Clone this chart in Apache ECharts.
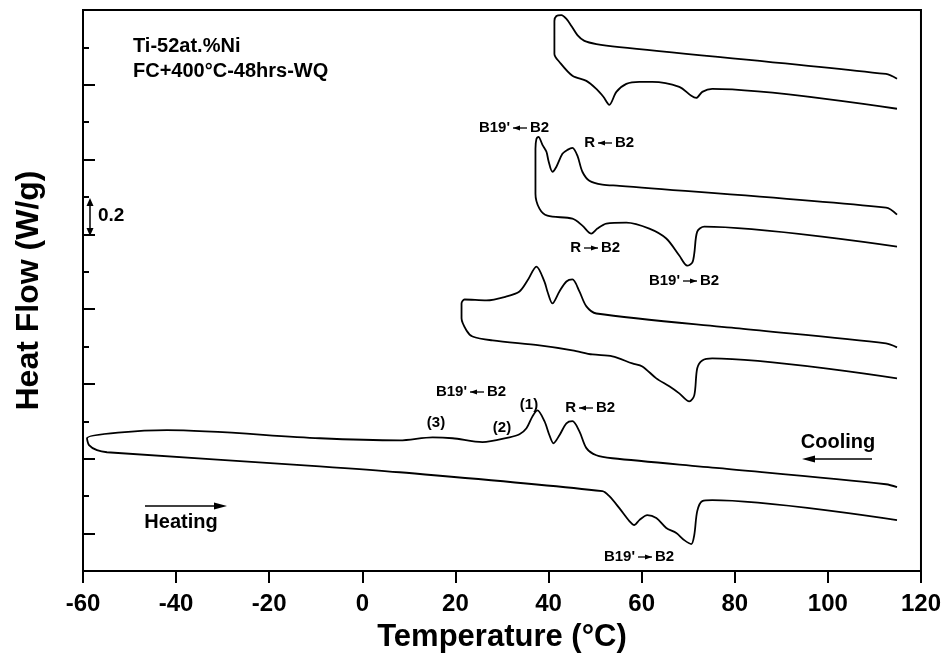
<!DOCTYPE html>
<html><head><meta charset="utf-8">
<script src="https://cdn.jsdelivr.net/npm/echarts@6/dist/echarts.min.js"></script>
<style>html,body{margin:0;padding:0;background:#fff}#c{width:944px;height:658px}</style>
</head><body><div id="c"></div>
<script>
// Temperature (°C) and heat flow (W/g, offset curves) for the four DSC loops
const loop1T  = [114.85, 112.49, 55.21, 50.27, 47.70, 46.20, 44.91, 43.84, 42.77, 41.69, 41.26, 41.26, 42.34, 45.13, 48.13, 50.27, 51.78, 53.06, 54.57, 56.71, 59.50, 62.29, 68.08, 70.66, 71.73, 73.02, 75.16, 114.85];
const loop1HF = [2.632, 2.658, 2.802, 2.818, 2.835, 2.866, 2.915, 2.952, 2.973, 2.968, 2.941, 2.765, 2.722, 2.648, 2.621, 2.578, 2.536, 2.493, 2.562, 2.605, 2.616, 2.616, 2.589, 2.541, 2.530, 2.562, 2.578, 2.472];

const loop2T  = [114.85, 112.49, 55.21, 51.56, 48.77, 47.27, 46.20, 45.13, 44.06, 42.98, 41.69, 40.83, 39.98, 39.55, 38.69, 37.83, 37.40, 37.19, 37.19, 38.05, 39.76, 45.13, 47.27, 49.20, 50.49, 52.42, 56.71, 61.65, 65.29, 68.08, 69.80, 70.87, 71.30, 71.94, 73.45, 114.85];
const loop2HF = [1.906, 1.943, 2.060, 2.066, 2.087, 2.135, 2.221, 2.263, 2.252, 2.231, 2.162, 2.135, 2.194, 2.242, 2.279, 2.322, 2.311, 2.258, 2.018, 1.938, 1.900, 1.884, 1.847, 1.804, 1.831, 1.858, 1.863, 1.831, 1.778, 1.687, 1.633, 1.649, 1.697, 1.815, 1.842, 1.735];

const loop3T  = [114.85, 112.49, 80.95, 50.27, 48.13, 46.63, 45.13, 43.84, 42.34, 40.83, 39.76, 39.12, 37.40, 35.47, 33.76, 30.97, 26.67, 21.96, 21.31, 21.31, 22.38, 23.67, 27.96, 38.05, 45.13, 49.42, 53.71, 58.00, 60.15, 63.15, 65.94, 68.08, 70.23, 71.30, 71.94, 73.02, 75.16, 114.85];
const loop3HF = [1.196, 1.217, 1.297, 1.377, 1.415, 1.495, 1.559, 1.548, 1.495, 1.431, 1.495, 1.548, 1.628, 1.553, 1.495, 1.468, 1.447, 1.452, 1.431, 1.351, 1.286, 1.254, 1.233, 1.206, 1.180, 1.158, 1.148, 1.110, 1.094, 1.030, 0.988, 0.950, 0.907, 0.939, 1.084, 1.126, 1.137, 1.030];

const loop4T  = [114.85, 112.49, 76.66, 53.71, 50.27, 48.13, 46.63, 45.13, 43.84, 42.34, 41.05, 40.19, 39.12, 37.62, 36.55, 35.26, 33.76, 31.61, 25.82, 19.38, 15.09, 8.01, -9.15, -41.98, -59.14, -58.71, -57.00, -54.85, -9.15, 8.01, 51.56, 53.06, 55.21, 57.36, 58.43, 59.50, 61.22, 63.15, 65.29, 67.44, 69.15, 70.66, 71.30, 71.94, 73.02, 75.16, 114.85];
const loop4HF = [0.448, 0.464, 0.550, 0.603, 0.619, 0.657, 0.747, 0.801, 0.790, 0.726, 0.683, 0.726, 0.801, 0.859, 0.827, 0.763, 0.731, 0.715, 0.689, 0.710, 0.715, 0.699, 0.710, 0.753, 0.710, 0.673, 0.646, 0.635, 0.560, 0.528, 0.427, 0.400, 0.336, 0.267, 0.246, 0.272, 0.299, 0.283, 0.230, 0.203, 0.165, 0.144, 0.192, 0.320, 0.374, 0.379, 0.272];

const xMin = -60, xMax = 120, xStep = 20;

const FONT = "'Liberation Sans', Arial, Helvetica, sans-serif";
const chart = echarts.init(document.getElementById('c'), null, {renderer: 'canvas'});
const mk = (T, H) => T.map((t, i) => [t, H[i]]);
const loopSeries = (T, H) => ({
  type: 'line', yAxisIndex: 0, showSymbol: false, smooth: 0.3,
  lineStyle: {color: '#000', width: 1.8}, data: mk(T, H), z: 3
});
const txt = (s, x, y, size, align) => ({
  type: 'text', z: 10,
  style: {text: s, x: x, y: y, fill: '#000', font: 'bold ' + size + 'px ' + FONT,
          align: align || 'center', verticalAlign: 'middle'}
});
const seg = (x1, y1, x2, y2, w) => ({type: 'line', z: 10, shape: {x1, y1, x2, y2}, style: {stroke: '#000', lineWidth: w || 1.5}});
const tri = (pts) => ({type: 'polygon', z: 10, shape: {points: pts}, style: {fill: '#000'}});
// phase-transition label: left text, small arrow (dir -1 = left, +1 = right), right text
const phase = (left, right, dir, ax, y) => {
  const x1 = ax - 7, x2 = ax + 7;
  const tip = dir < 0 ? x1 : x2, base = dir < 0 ? x1 + 7 : x2 - 7;
  return [
    txt(left, ax - 10, y, 15, 'right'),
    seg(x1, y, x2, y, 1.3),
    tri([[tip, y], [base, y - 2.6], [base, y + 2.6]]),
    txt(right, ax + 10, y, 15, 'left')
  ];
};

const option = {
  animation: false,
  backgroundColor: '#fff',
  grid: {left: 83, right: 22, top: 10, bottom: 85, show: true, borderColor: '#000', borderWidth: 2, backgroundColor: 'transparent'},
  xAxis: {
    type: 'value', min: xMin, max: xMax, interval: xStep,
    name: 'Temperature (°C)', nameLocation: 'middle', nameGap: 51,
    nameTextStyle: {fontFamily: FONT, fontWeight: 'bold', fontSize: 31, color: '#000'},
    axisLine: {lineStyle: {color: '#000', width: 2}},
    axisTick: {inside: false, length: 12, lineStyle: {color: '#000', width: 2}},
    axisLabel: {margin: 21, fontFamily: FONT, fontWeight: 'bold', fontSize: 24, color: '#000'},
    splitLine: {show: false}
  },
  yAxis: [
    {type: 'value', min: 0, max: 3, show: false, splitLine: {show: false}},
    {type: 'value', inverse: true, min: 0, max: 7.5, interval: 1, position: 'left',
     name: 'Heat Flow (W/g)', nameLocation: 'middle', nameGap: 38, nameRotate: 90,
     nameTextStyle: {fontFamily: FONT, fontWeight: 'bold', fontSize: 32, color: '#000'},
     axisLine: {show: true, lineStyle: {color: '#000', width: 2}},
     axisTick: {show: true, inside: true, length: 12, lineStyle: {color: '#000', width: 2}},
     minorTick: {show: true, splitNumber: 2, length: 6, lineStyle: {color: '#000', width: 2}},
     axisLabel: {show: false}, splitLine: {show: false}, minorSplitLine: {show: false}}
  ],
  series: [
    loopSeries(loop1T, loop1HF),
    loopSeries(loop2T, loop2HF),
    loopSeries(loop3T, loop3HF),
    loopSeries(loop4T, loop4HF)
  ],
  graphic: [].concat(
    [
      txt('Ti-52at.%Ni', 133, 46, 20, 'left'),
      txt('FC+400°C-48hrs-WQ', 133, 71, 20, 'left'),
      txt('0.2', 98, 216, 19, 'left'),
      seg(90, 203, 90, 231),
      tri([[90, 198], [86.5, 206], [93.5, 206]]),
      tri([[90, 236], [86.5, 228], [93.5, 228]]),
      txt('(1)', 529, 405, 15),
      txt('(2)', 502, 428, 15),
      txt('(3)', 436, 423, 15),
      txt('Cooling', 838, 442, 20),
      seg(812, 459, 872, 459),
      tri([[802, 459], [815, 455.5], [815, 462.5]]),
      txt('Heating', 181, 522, 20),
      seg(145, 506, 215, 506),
      tri([[227, 506], [214, 502.5], [214, 509.5]])
    ],
    phase("B19'", 'B2', -1, 520, 128),
    phase('R', 'B2', -1, 605, 143),
    phase('R', 'B2', 1, 591, 248),
    phase("B19'", 'B2', 1, 690, 281),
    phase("B19'", 'B2', -1, 477, 392),
    phase('R', 'B2', -1, 586, 408),
    phase("B19'", 'B2', 1, 645, 557)
  )
};
chart.setOption(option);
</script>
</body></html>
